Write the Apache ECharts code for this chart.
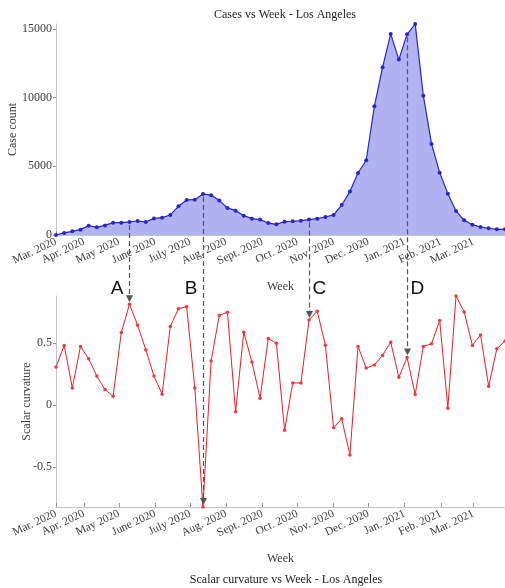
<!DOCTYPE html>
<html>
<head>
<meta charset="utf-8">
<script src="https://cdn.jsdelivr.net/npm/echarts@6/dist/echarts.min.js"></script>
<style>html,body{margin:0;padding:0;background:#fff;}#c{width:505px;height:588px;}</style>
</head>
<body>
<div id="c"></div>
<script>
// ---- data ----
const startDate = '2020-03-08';
const weekCount = 56;
const cases = [0,150,270,390,680,560,700,900,900,950,
  1020,950,1210,1260,1460,2090,2550,2570,2990,2890,
  2520,1970,1770,1410,1190,1120,870,780,970,1000,
  1040,1120,1190,1310,1460,2180,3160,4510,5440,9370,
  12210,14640,12770,14610,15360,10140,6630,4540,3010,1750,
  1070,750,580,490,410,410];
const curvature = [0.305,0.48,0.137,0.472,0.372,0.233,0.123,0.07,0.584,0.812,
  0.643,0.445,0.233,0.086,0.632,0.777,0.793,0.137,-0.825,0.354,
  0.721,0.748,-0.056,0.587,0.346,0.054,0.536,0.498,-0.206,0.177,
  0.177,0.686,0.756,0.482,-0.185,-0.113,-0.405,0.472,0.297,0.322,
  0.399,0.506,0.222,0.383,0.083,0.472,0.493,0.681,-0.027,0.879,
  0.75,0.48,0.565,0.15,0.453,0.515];
const monthTickDates = ['2020-03-08','2020-04-01','2020-05-01','2020-06-01','2020-07-01','2020-08-01',
  '2020-09-01','2020-10-01','2020-11-01','2020-12-01','2021-01-01','2021-02-01','2021-03-01'];
const monthTickLabels = ['Mar. 2020','Apr. 2020','May 2020','June 2020','July 2020','Aug. 2020',
  'Sept. 2020','Oct. 2020','Nov. 2020','Dec. 2020','Jan. 2021','Feb. 2021','Mar. 2021'];
const caseTicks = [0,5000,10000,15000];
const curvTicks = [-0.5,0,0.5];
const markWeeks = [9,18,31,43];
const markLabels = ['A','B','C','D'];
const markSide = ['left','left','right','right'];

// ---- helpers: x is measured in days since the first week ----
function ts(s){ const p=s.split('-').map(Number); return Date.UTC(p[0],p[1]-1,p[2]); }
const DAY = 86400000;
const t0 = ts(startDate);
const weekDay = [];
for (let i=0;i<weekCount;i++) weekDay.push(i*7);
const monthDay = monthTickDates.map(d => Math.round((ts(d)-t0)/DAY));
const xMin = weekDay[0], xMax = weekDay[weekCount-1];

const serif = 'Liberation Serif';
const tickColor = '#404040';
const axisGray = '#c4c4c4';

function xAxis(gridIndex){
  return {
    type:'value', gridIndex, min:xMin, max:xMax,
    name:'Week', nameLocation:'middle', nameGap:46, nameMoveOverlap:false,
    nameTextStyle:{fontFamily:serif,fontSize:12,color:tickColor},
    axisLine:{onZero:false,lineStyle:{color:axisGray,width:1}},
    axisTick:{show:true,inside:true,length:4,lineStyle:{color:'#999'},customValues:monthDay},
    axisLabel:{customValues:monthDay, rotate:25, margin:6, hideOverlap:false,
      fontFamily:serif, fontSize:11.5, color:tickColor,
      formatter:(v)=>{ const i=monthDay.indexOf(Math.round(v)); return i>=0?monthTickLabels[i]:''; }},
    splitLine:{show:false}
  };
}
function yAxis(gridIndex, name, gap, ticks, min, max){
  return {type:'value', gridIndex, min, max,
    name, nameLocation:'middle', nameRotate:90, nameGap:gap, nameMoveOverlap:false,
    nameTextStyle:{fontFamily:serif,fontSize:12,color:tickColor},
    axisLine:{show:true,onZero:false,lineStyle:{color:axisGray}},
    axisTick:{show:true,length:3,lineStyle:{color:'#999'},customValues:ticks},
    axisLabel:{customValues:ticks,margin:4,fontFamily:serif,fontSize:12,color:tickColor,
      formatter:(v)=>String(v)},
    splitLine:{show:false}};
}

const chart = echarts.init(document.getElementById('c'), null, {renderer:'canvas'});
chart.setOption({
  animation:false,
  title:[
    {text:'Cases vs Week - Los Angeles', left:280, textAlign:'center', top:4,
      textStyle:{fontFamily:serif,fontSize:12,fontWeight:'normal',color:'#222'}},
    {text:'Scalar curvature vs Week - Los Angeles', left:281, textAlign:'center', top:569,
      textStyle:{fontFamily:serif,fontSize:12,fontWeight:'normal',color:'#222'}}
  ],
  grid:[
    {left:56, right:0, top:24, height:211, containLabel:false, outerBoundsMode:'none'},
    {left:56, right:0, top:296, height:211, containLabel:false, outerBoundsMode:'none'}
  ],
  xAxis:[xAxis(0), xAxis(1)],
  yAxis:[
    yAxis(0, 'Case count', 37, caseTicks, 0, 'dataMax'),
    yAxis(1, 'Scalar curvature', 23, curvTicks, 'dataMin', 'dataMax')
  ],
  series:[
    {type:'line', xAxisIndex:0, yAxisIndex:0,
      data:weekDay.map((d,i)=>[d,cases[i]]),
      symbol:'circle', symbolSize:4, showSymbol:true,
      lineStyle:{color:'#2626c4',width:1.2},
      itemStyle:{color:'#2626d0'},
      areaStyle:{color:'#b0b2f2',opacity:1},
      clip:false},
    {type:'line', xAxisIndex:1, yAxisIndex:1,
      data:weekDay.map((d,i)=>[d,curvature[i]]),
      symbol:'circle', symbolSize:3.5, showSymbol:true,
      lineStyle:{color:'#ec1c24',width:1},
      itemStyle:{color:'#ec3a40'},
      clip:false}
  ]
});

// annotation arrows, positioned via the axes
const graphics = [];
markWeeks.forEach((w,k)=>{
  const p1 = chart.convertToPixel({gridIndex:0}, [weekDay[w], cases[w]]);
  const p2 = chart.convertToPixel({gridIndex:1}, [weekDay[w], curvature[w]]);
  const x = Math.round(p1[0]) + 0.5;
  const yTop = p1[1] + 3;
  const yTip = p2[1] - 2;
  graphics.push({type:'line', shape:{x1:x,y1:yTop,x2:x,y2:yTip-5},
    style:{stroke:'#555',lineWidth:1.2,lineDash:[5,3]}, z:100});
  graphics.push({type:'polygon', shape:{points:[[x-3.5,yTip-7],[x+3.5,yTip-7],[x,yTip]]},
    style:{fill:'#555'}, z:100});
  const left = markSide[k]==='left';
  graphics.push({type:'text', x: left ? x-6 : x+3, y:289,
    style:{text:markLabels[k], fontFamily:'Liberation Sans', fontSize:19, fill:'#111',
      align: left ? 'right':'left', verticalAlign:'middle'}, z:100});
});
chart.setOption({graphic:graphics});
</script>
</body>
</html>
